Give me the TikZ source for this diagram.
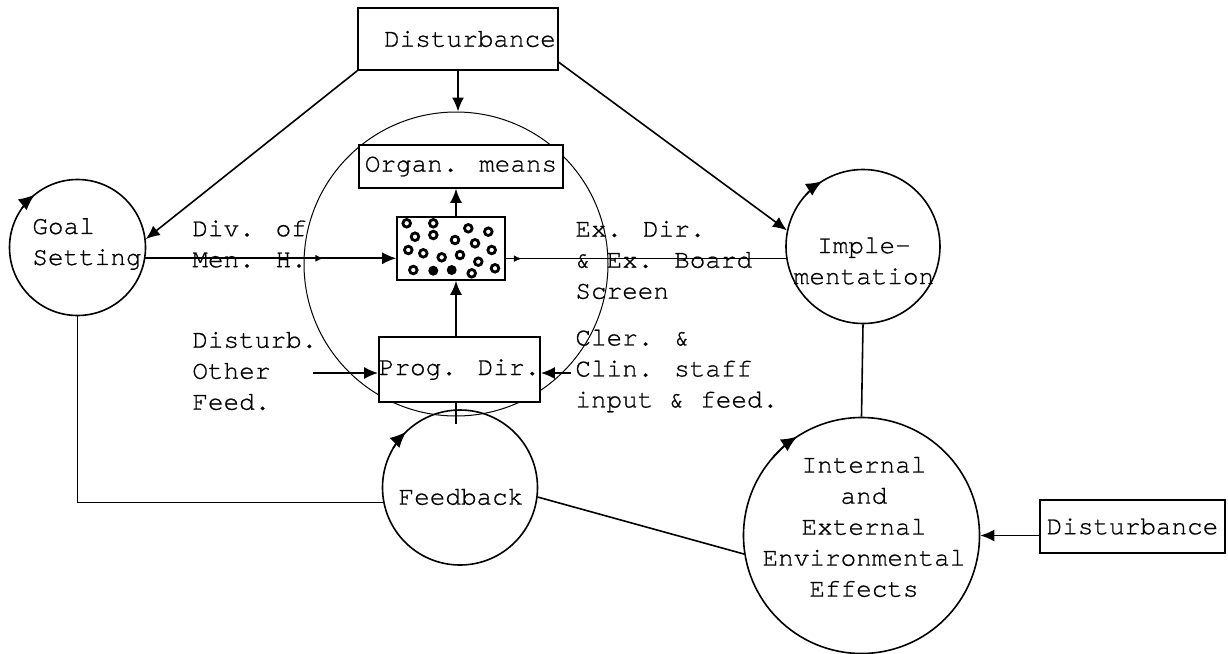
\documentclass[tikz,border=0pt]{standalone}
\usepackage{fontspec}
\setmainfont{TeX Gyre Cursor}[Ligatures=NoCommon,FakeBold=0.7]
\usetikzlibrary{arrows.meta,calc,decorations.markings}
\begin{document}
\begin{tikzpicture}[x=0.5pt,y=0.5pt,
  every node/.style={font=\fontsize{13}{15.5}\selectfont},
  box/.style={draw,line width=0.8pt,inner sep=0pt},
  ring/.style={draw,circle,line width=0.8pt,inner sep=0pt},
  arr/.style={line width=0.8pt,-{Latex[length=7pt,width=6pt]}},
  turn/.style={line width=0.8pt,-{Latex[length=8pt,width=7pt]}},
  link/.style={line width=0.8pt},
  lbl/.style={align=left,anchor=west,inner sep=0pt},
  txt/.style={align=center,inner sep=0pt},
  blob/.style={line width=1.4pt},
  tick/.style={decoration={markings,mark=at position #1 with {\arrow{Latex[length=4pt,width=3.5pt]}}},postaction=decorate},
]
\useasboundingbox (0,0) rectangle (1228,-654);

% central system and its parts
\node[box,minimum width=100pt,minimum height=31pt] (topD) at (458,-39) {\hspace*{12pt}Disturbance};
\node[ring,line width=0.5pt,minimum size=152pt] (big) at (456,-264) {};
\node[box,fill=white,minimum width=102pt,minimum height=21.5pt] (organ) at (461,-166.5) {Organ. means};
\node[box,minimum width=54pt,minimum height=31.5pt] (dots) at (451,-248.5) {};
\node[box,fill=white,minimum width=78.5pt,minimum height=32.5pt] (prog) at (459.5,-369.5) {Prog. Dir.};

% outer loop circles
\node[ring,minimum size=68pt] (goal) at (77.5,-247.5) {};
\node[ring,minimum size=77pt] (impl) at (863,-246.5) {};
\node[ring,minimum size=77.5pt] (fb) at (460,-487.5) {};
\node[ring,minimum size=118pt] (env) at (861.5,-535.5) {};
\node[box,minimum width=92.5pt,minimum height=26.5pt] (rd) at (1132.5,-526.5) {Disturbance};

% texts inside the circles
\node[lbl] (tGoal) at (32,-244) {Goal\\Setting};
\node[txt] (tImpl) at (864,-261) {Imple-\\mentation};
\node[txt] (tFb) at (461,-497) {Feedback};
\node[txt] (tEnv) at (864,-527) {Internal\\and\\External\\Environmental\\Effects};

% side labels
\node[lbl] (lDiv) at (192,-244) {Div. of\\Men. H.};
\node[lbl] (lEx) at (575,-260) {Ex. Dir.\\\& Ex. Board\\Screen};
\node[lbl] (lDis) at (192,-371) {Disturb.\\Other\\Feed.};
\node[lbl] (lCler) at (575,-371) {Cler. \&\\Clin. staff\\input \& feed.};

% mixed contents of the core box
\foreach \p/\q in {406.7/223.3,433.3/223.3,468.3/228.3,488.3/231.7,415/236.7,433.3/235,
  455/240,475/243.3,408.3/250,423.3/253.3,441.7/257.3,460/255,478.3/261.7,491.7/250,
  413.3/270,471.7/273.3,495/268.3}
  \draw[blob] (\p,-\q) circle[radius=3.8];
\fill (433.3,-270.7) circle[radius=5];
\fill (451.7,-270) circle[radius=5];

% connectors
\draw[arr] (topD.south) -- (topD.south |- big.north);
\draw[arr] (topD.south west) -- (goal.7);
\draw[arr] (topD.-13.5) -- (impl.168);
\draw[arr] (dots.north -| big.center) -- (organ.south -| big.center);
\draw[arr] (prog.north -| big.center) -- (dots.south -| big.center);
\draw[arr,tick=0.71] (goal.-9) -- (dots.west |- goal.-9);
\draw[link,tick=8pt] (dots.east |- impl.-171) -- (impl.-171);
\coordinate (inL) at (313,-373);
\coordinate (inR) at (571,-373);
\draw[arr] (inL) -- (inL -| prog.west);
\draw[arr] (inR) -- (inR -| prog.east);
\draw[link] (prog.south -| big.center) -- ++(0,-21);
\draw[link] (goal.south) |- (fb.191.5);
\draw[link] (fb.-7) -- (env.189);
\draw[link] (impl.south) -- (env.north);
\draw[arr] (rd.west |- env.east) -- (env.east);

% circulation arrows on the loop circles
\foreach \c/\r/\a in {goal/68/129,impl/77/122,fb/77.5/134,env/118/123}
  \draw[turn] ($(\c.center)+(\a+16:\r)$) arc[start angle=\a+16,end angle=\a,radius=\r];
\end{tikzpicture}
\end{document}
